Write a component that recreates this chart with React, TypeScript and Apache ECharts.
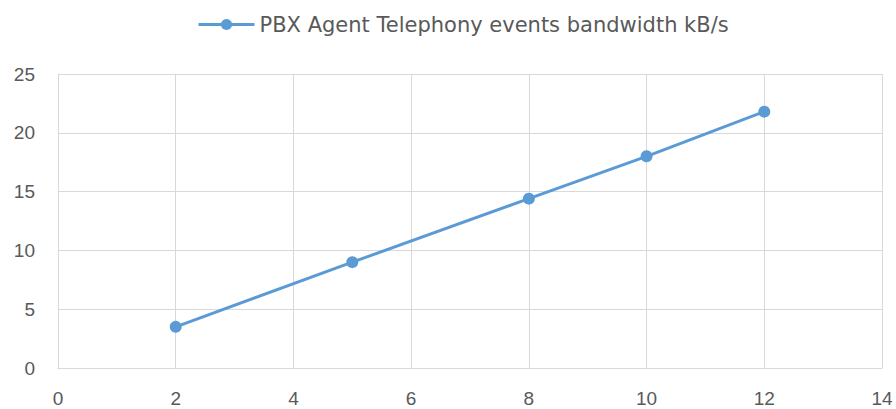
import React, { useEffect, useRef } from "react";
import * as echarts from "echarts";

const seriesName = "PBX Agent Telephony events bandwidth kB/s";
const xValues = [2, 5, 8, 10, 12];
const yValues = [3.5, 9, 14.4, 18, 21.8];

export default function App() {
  const ref = useRef<HTMLDivElement>(null);
  useEffect(() => {
    if (!ref.current) return;
    const chart = echarts.init(ref.current, null, { renderer: "svg" });
    const font = "'Liberation Sans', Arial, sans-serif";
    chart.setOption({
      animation: false,
      backgroundColor: "#ffffff",
      legend: {
        top: 9,
        left: 192,
        itemWidth: 56,
        itemHeight: 14,
        itemGap: 5,
        lineStyle: { width: 3 },
        textStyle: { color: "#595959", fontSize: 21, fontFamily: "'DejaVu Sans', sans-serif" },
        data: [{ name: seriesName }],
      },
      grid: { left: 58, right: 14, top: 74, bottom: 41, containLabel: false },
      xAxis: {
        type: "value",
        min: 0,
        max: 14,
        interval: 2,
        axisLine: { show: true, lineStyle: { color: "#d9d9d9", width: 1 } },
        axisTick: { show: false },
        splitLine: { show: true, lineStyle: { color: "#d9d9d9", width: 1 } },
        axisLabel: { color: "#595959", fontSize: 19, fontFamily: font, margin: 21 },
      },
      yAxis: {
        type: "value",
        min: 0,
        max: 25,
        interval: 5,
        axisLine: { show: true, lineStyle: { color: "#d9d9d9", width: 1 } },
        axisTick: { show: false },
        splitLine: { show: true, lineStyle: { color: "#d9d9d9", width: 1 } },
        axisLabel: { color: "#595959", fontSize: 19, fontFamily: font, margin: 23 },
      },
      series: [
        {
          name: seriesName,
          type: "line",
          data: xValues.map((x, i) => [x, yValues[i]]),
          symbol: "circle",
          symbolSize: 12,
          itemStyle: { color: "#5B9BD5" },
          lineStyle: { color: "#5B9BD5", width: 3 },
        },
      ],
    });
    return () => chart.dispose();
  }, []);
  return <div ref={ref} style={{ width: 896, height: 409, position: "absolute", left: 0, top: 0 }} />;
}
